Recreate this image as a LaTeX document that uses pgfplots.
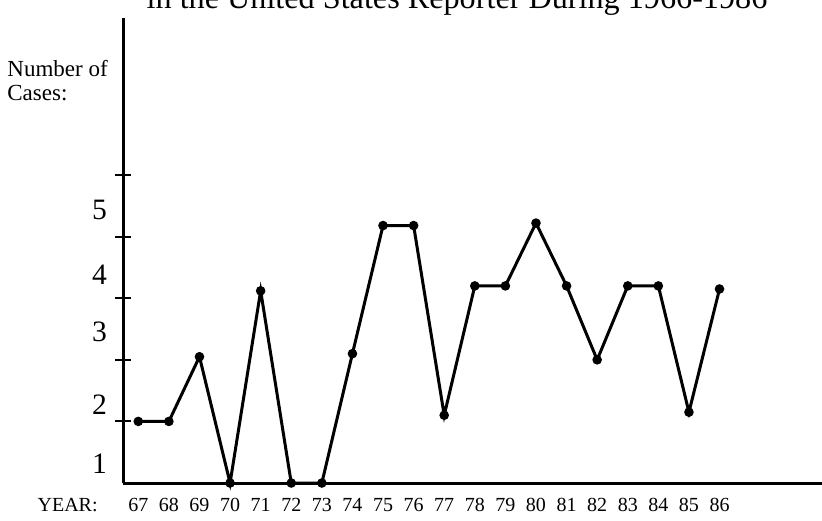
\documentclass[border=0pt]{standalone}
\usepackage{fontspec}
\setmainfont{Liberation Serif}
\usepackage{pgfplots}
\pgfplotsset{compat=1.18}
\begin{document}
\begin{tikzpicture}
\path[use as bounding box] (-61.5pt,-18.5pt) rectangle (349.5pt,241.5pt);
\begin{axis}[
  at={(0pt,0pt)}, anchor=south west,
  scale only axis, width=349.5pt, height=232.5pt,
  xmin=66.5, xmax=89.35, ymin=0, ymax=7.55,
  axis lines=left,
  axis line style={-, line width=1.5pt, black},
  xtick={67,...,86},
  xticklabels={67,68,69,70,71,72,73,74,75,76,77,78,79,80,81,82,83,84,85,86},
  major tick length=0pt,
  xticklabel style={font=\fontsize{10}{12}\selectfont, anchor=base, yshift=-14pt},
  ytick={0.32,1.27,2.45,3.38,4.43},
  yticklabels={1,2,3,4,5},
  yticklabel style={font=\fontsize{14.8}{16}\selectfont, xshift=-4.5pt},
  extra y ticks={1,2,3,4,5},
  extra y tick labels={,,,,},
  extra y tick style={major tick length=8pt, tick align=center, tick style={black, line width=1pt}},
  /pgf/number format/assume math mode=true,
  clip=false,
]
\addplot[black, line width=1.5pt, mark=*, mark size=1.6pt] coordinates {
  (67,1.0) (68,1.0) (69,2.05) (70,0) (71,3.12) (72,0) (73,0) (74,2.1)
  (75,4.18) (76,4.18) (77,1.1) (78,3.2) (79,3.2) (80,4.22) (81,3.2)
  (82,2.0) (83,3.2) (84,3.2) (85,1.15) (86,3.15)
};
\end{axis}
\node[anchor=base, font=\fontsize{16.1}{18}\selectfont, inner sep=0pt] at (167pt,237pt) {in the United States Reporter During 1966-1986};
\node[anchor=base west, font=\fontsize{11.5}{13}\selectfont, inner sep=0pt] at (-58pt,203pt) {Number of};
\node[anchor=base west, font=\fontsize{11.5}{13}\selectfont, inner sep=0pt] at (-58pt,191pt) {Cases:};
\node[anchor=base east, font=\fontsize{10}{12}\selectfont, inner sep=0pt] at (-12.5pt,-14pt) {YEAR:};
\end{tikzpicture}
\end{document}
